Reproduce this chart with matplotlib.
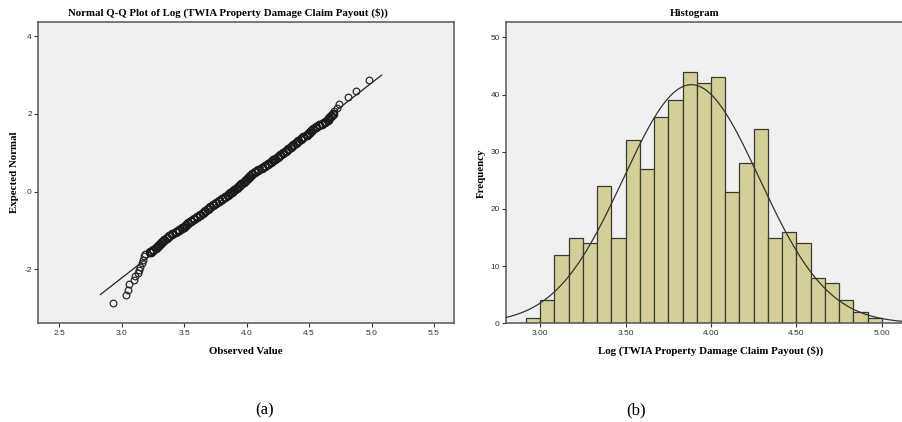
import numpy as np
import matplotlib
matplotlib.use("Agg")
import matplotlib.pyplot as plt

# ---------------- data ----------------
qq_observed = [2.927, 3.037, 3.048, 3.058, 3.098, 3.106, 3.128, 3.138, 3.146, 3.160,
               3.168, 3.178, 3.190, 3.226,
               3.236, 3.253, 3.271, 3.288, 3.306, 3.324, 3.341, 3.360, 3.382, 3.406,
               3.432, 3.458, 3.480, 3.498, 3.515, 3.534, 3.555, 3.579, 3.604, 3.627,
               3.648, 3.667, 3.687, 3.709, 3.730, 3.752, 3.778, 3.804, 3.830, 3.852,
               3.870, 3.886, 3.902, 3.920, 3.939, 3.958, 3.975, 3.992, 4.009, 4.026,
               4.045, 4.068, 4.095, 4.123, 4.150, 4.173, 4.193, 4.212, 4.231, 4.251,
               4.271, 4.292, 4.313, 4.334, 4.354, 4.374, 4.393, 4.412, 4.432, 4.454,
               4.480, 4.496, 4.514, 4.535, 4.557, 4.580, 4.604, 4.629, 4.650, 4.663,
               4.676, 4.690,
               4.703, 4.720, 4.740, 4.814, 4.875, 4.980]
qq_expected = [-2.88, -2.655, -2.53, -2.37, -2.27, -2.18, -2.10, -2.01, -1.93, -1.84,
               -1.76, -1.65, -1.60, -1.56,
               -1.55, -1.50, -1.45, -1.40, -1.35, -1.30, -1.25, -1.20, -1.15, -1.10,
               -1.05, -1.00, -0.95, -0.90, -0.85, -0.80, -0.75, -0.70, -0.65, -0.60,
               -0.55, -0.50, -0.45, -0.40, -0.35, -0.30, -0.25, -0.20, -0.15, -0.10,
               -0.05, 0.00, 0.05, 0.10, 0.15, 0.20, 0.25, 0.30, 0.35, 0.40,
               0.45, 0.50, 0.55, 0.60, 0.65, 0.70, 0.75, 0.80, 0.85, 0.90,
               0.95, 1.00, 1.05, 1.10, 1.15, 1.20, 1.25, 1.30, 1.35, 1.40,
               1.45, 1.50, 1.55, 1.60, 1.65, 1.70, 1.75, 1.80, 1.85, 1.90,
               1.95, 2.00,
               2.06, 2.14, 2.25, 2.42, 2.59, 2.87]
qq_line_x = [2.83, 5.08]
data_mean = 3.886
data_sd = 0.3986

# Histogram
hist_counts = [1, 4, 12, 15, 14, 24, 15, 32, 27, 36, 39, 44, 42, 43, 23, 28, 34,
               15, 16, 14, 8, 7, 4, 2, 1]
hist_start = 2.9166
hist_width = 0.0834
hist_xticks = [3.00, 3.50, 4.00, 4.50, 5.00]
hist_yticks = [0, 10, 20, 30, 40, 50]
qq_xticks = [2.5, 3.0, 3.5, 4.0, 4.5, 5.0, 5.5]
qq_yticks = [-2, 0, 2, 4]

# ---------------- figure ----------------
W, H = 902, 422
fig = plt.figure(figsize=(W / 100, H / 100), dpi=100)
fig.patch.set_facecolor("white")

serif = "Liberation Serif"
sans = "Liberation Sans"
bg = "#F0F0F0"
spine_c = "#555555"

def fx(px):
    return px / W

def fy(py):
    return 1 - py / H

def style_axes(ax):
    ax.set_facecolor(bg)
    for s in ax.spines.values():
        s.set_color(spine_c)
        s.set_linewidth(1.1)
    ax.tick_params(direction="out", length=3, width=0.8, color="#333333",
                   labelsize=6, labelcolor="#333333", pad=1.5)
    for lab in ax.get_xticklabels() + ax.get_yticklabels():
        lab.set_fontfamily(sans)

# ---- Q-Q plot ----
ax1 = fig.add_axes([fx(38), fy(323.3), fx(454 - 38), (323.3 - 21.7) / H])
ax1.set_xlim(2.33, 5.66)
ax1.set_ylim(-3.39, 4.37)
ax1.set_xticks(qq_xticks)
ax1.set_xticklabels([f"{v:.1f}" for v in qq_xticks])
ax1.set_yticks(qq_yticks)
ax1.set_yticklabels([str(v) for v in qq_yticks])
style_axes(ax1)
lx = np.array(qq_line_x)
ax1.plot(lx, (lx - data_mean) / data_sd, color="#222222", lw=0.9, zorder=2)

obs = np.array(qq_observed)
exp_ = np.array(qq_expected)
dense = (exp_ > -1.57) & (exp_ < 2.02)
ax1.plot(obs[~dense], exp_[~dense], linestyle="none", marker="o", markersize=4.8,
         markerfacecolor="none", markeredgecolor="#2a2a2a", markeredgewidth=0.9,
         zorder=3)
ax1.plot(obs[dense], exp_[dense], linestyle="none", marker="o", markersize=5.4,
         markerfacecolor="none", markeredgecolor="#1a1a1a", markeredgewidth=1.5,
         zorder=3)

fig.text(fx(228), fy(13), "Normal Q-Q Plot of Log (TWIA Property Damage Claim Payout ($))",
         ha="center", va="center", fontsize=7.8, fontweight="bold", family=serif)
fig.text(fx(246), fy(351), "Observed Value", ha="center", va="center",
         fontsize=7.8, fontweight="bold", family=serif)
fig.text(fx(15), fy(172), "Expected Normal", ha="center", va="center", rotation=90,
         fontsize=7.8, fontweight="bold", family=serif)

# ---- Histogram ----
ax2 = fig.add_axes([fx(506), fy(323.3), fx(902 - 506) + 0.002, (323.3 - 22) / H])
ax2.set_xlim(2.8, 5.13)
ax2.set_ylim(0, 52.7)
edges = hist_start + hist_width * np.arange(len(hist_counts))
ax2.bar(edges, hist_counts, width=hist_width, align="edge", color="#D4CF99",
        edgecolor="#3a3a30", linewidth=0.9, zorder=2)
xs = np.linspace(2.8, 5.13, 400)
curve = sum(hist_counts) * hist_width / (data_sd * np.sqrt(2 * np.pi)) \
    * np.exp(-0.5 * ((xs - data_mean) / data_sd) ** 2)
ax2.plot(xs, curve, color="#333333", lw=0.9, zorder=3)
ax2.set_xticks(hist_xticks)
ax2.set_xticklabels([f"{v:.2f}" for v in hist_xticks])
ax2.set_yticks(hist_yticks)
ax2.set_yticklabels([str(v) for v in hist_yticks])
style_axes(ax2)
ax2.spines["right"].set_visible(False)

fig.text(fx(695), fy(13), "Histogram", ha="center", va="center",
         fontsize=7.8, fontweight="bold", family=serif)
fig.text(fx(711), fy(351), "Log (TWIA Property Damage Claim Payout ($))", ha="center",
         va="center", fontsize=7.8, fontweight="bold", family=serif)
fig.text(fx(481), fy(173), "Frequency", ha="center", va="center", rotation=90,
         fontsize=7.8, fontweight="bold", family=serif)

# ---- captions ----
fig.text(fx(265), fy(410), "(a)", ha="center", va="center", fontsize=12, family=serif)
fig.text(fx(636), fy(410), "(b)", ha="center", va="center", fontsize=12, family=serif)

fig.savefig("out.png", dpi=100)
